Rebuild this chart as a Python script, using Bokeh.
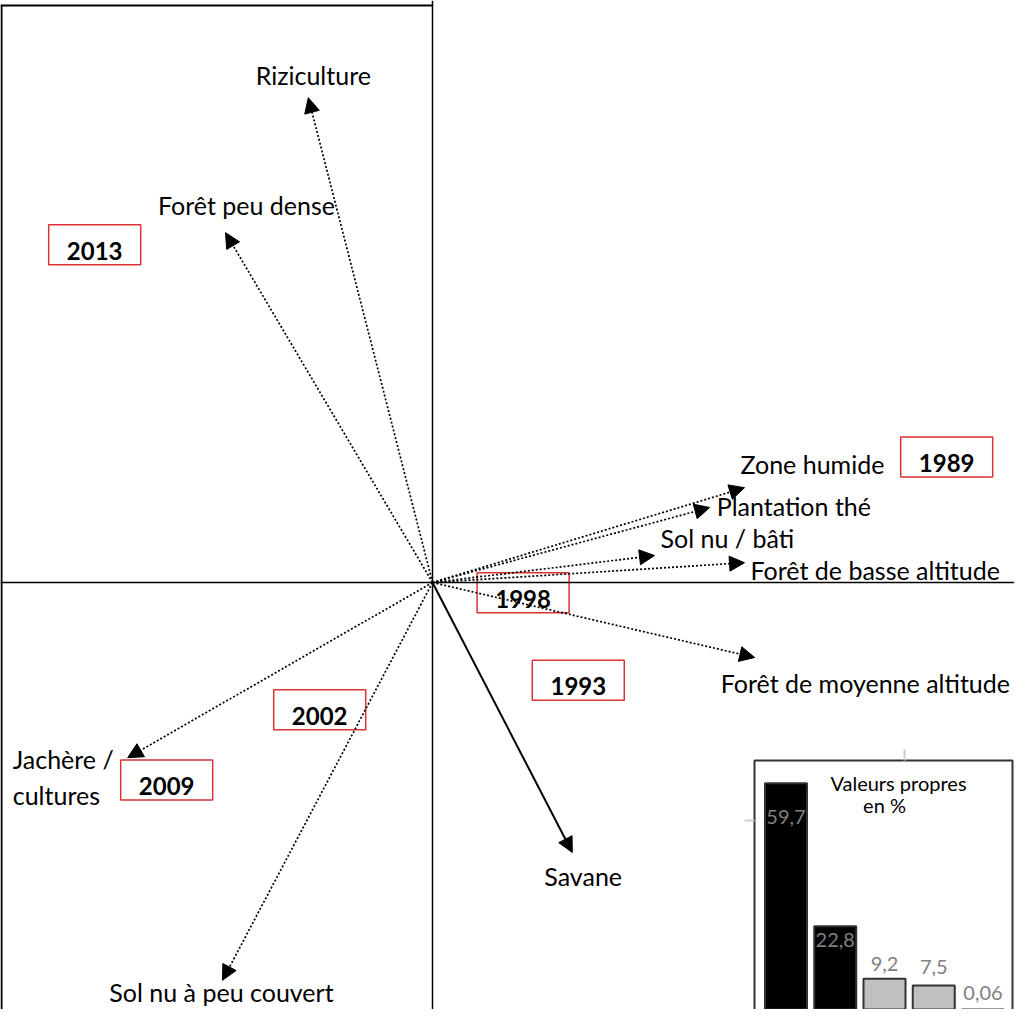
from bokeh.plotting import figure
from bokeh.models import ColumnDataSource, Arrow, NormalHead, Span, Range1d
from bokeh.core.properties import value
from bokeh.embed import file_html
from bokeh.resources import INLINE

# ---------------- data ----------------
# variables (dotted arrows) : coordinates on F1 / F2
var_names = ["Riziculture", "Forêt peu dense", "Zone humide", "Plantation thé", "Sol nu / bâti",
             "Forêt de basse altitude", "Forêt de moyenne altitude", "Sol nu à peu couvert",
             "Jachère /\ncultures"]
var_f1 = [-0.207, -0.345, 0.520, 0.462, 0.370, 0.520, 0.537, -0.350, -0.508]
var_f2 = [0.808, 0.583, 0.158, 0.125, 0.045, 0.033, -0.125, -0.663, -0.292]

# variable drawn with a solid arrow
solid_names = ["Savane"]
solid_f1 = [0.233]
solid_f2 = [-0.450]

# years (individuals)
years = ["2013", "1989", "1998", "1993", "2002", "2009"]
year_f1 = [-0.563, 0.857, 0.151, 0.243, -0.188, -0.443]
year_f2 = [0.563, 0.209, -0.017, -0.163, -0.212, -0.329]

# eigenvalues (%)
eig_labels = ["59,7", "22,8", "9,2", "7,5", "0,06"]
eig_values = [59.7, 22.8, 9.2, 7.5, 0.06]

# ---------------- layout ----------------
W, H = 1014, 1009
S = 600.0            # px per unit
OX, OY = 432, 582    # origin inside frame (px)
x_range = Range1d(-OX / S, (W - OX) / S)
y_range = Range1d(-(H - OY) / S, OY / S)

FONT = value("Lato")
LAB_SIZE = "25px"

p = figure(width=W, height=H, x_range=x_range, y_range=y_range,
           output_backend="svg", toolbar_location=None, min_border=0,
           x_axis_location=None, y_axis_location=None, outline_line_color=None)
p.grid.visible = False
p.background_fill_color = "white"

# frame (left + top border) and axes
top_y = (OY - 5) / S
left_x = x_range.start + 1.0 / S
p.segment(x0=[x_range.start], y0=[top_y], x1=[0], y1=[top_y], line_color="black", line_width=2)
p.segment(x0=[left_x], y0=[y_range.start], x1=[left_x], y1=[top_y], line_color="black", line_width=2)
p.add_layout(Span(location=0, dimension="width", line_color="black", line_width=1.5))
p.add_layout(Span(location=0, dimension="height", line_color="black", line_width=1.5))

# dotted arrows
n = len(var_names)
src = ColumnDataSource(dict(x0=[0] * n, y0=[0] * n, x1=var_f1, y1=var_f2))
p.add_layout(Arrow(end=NormalHead(size=15, fill_color="black", line_color="black"),
                   source=src, x_start="x0", y_start="y0", x_end="x1", y_end="y1",
                   line_dash="2 2", line_width=1.7, line_color="black"))
# solid arrow
m = len(solid_names)
src2 = ColumnDataSource(dict(x0=[0] * m, y0=[0] * m, x1=solid_f1, y1=solid_f2))
p.add_layout(Arrow(end=NormalHead(size=15, fill_color="black", line_color="black"),
                   source=src2, x_start="x0", y_start="y0", x_end="x1", y_end="y1",
                   line_width=2, line_color="black"))

# variable labels (offsets in screen px from arrow tips)
lab_dx = [5, 21, -4, 7, 6, 6, -34, -1, -115]
lab_dy = [-23, -28, -24, -2, -18, 7, 25, 12, 19]
lab_align = ["center", "center", "left", "left", "left", "left", "left", "center", "left"]
p.text(x=var_f1[:-1], y=var_f2[:-1], text=var_names[:-1], x_offset=lab_dx[:-1], y_offset=lab_dy[:-1],
       text_align=lab_align[:-1], text_baseline="middle", text_font=FONT,
       text_font_size=LAB_SIZE, text_color="black")
p.text(x=var_f1[-1:], y=var_f2[-1:], text=var_names[-1:], x_offset=lab_dx[-1], y_offset=lab_dy[-1],
       text_align="left", text_baseline="middle", text_font=FONT, text_line_height=1.2,
       text_font_size=LAB_SIZE, text_color="black")
p.text(x=solid_f1, y=solid_f2, text=solid_names, x_offset=-28, y_offset=23,
       text_align="left", text_baseline="middle", text_font=FONT,
       text_font_size=LAB_SIZE, text_color="black")

# year boxes
p.rect(x=year_f1, y=year_f2, width=92, height=40, width_units="screen", height_units="screen",
       fill_color=None, line_color="#dc3232", line_width=1.5)
p.text(x=year_f1, y=year_f2, text=years, y_offset=6, text_align="center", text_baseline="middle",
       text_font=FONT, text_font_style="bold", text_font_size="24px", text_color="black")

# ---------------- inset: eigenvalues ----------------
PX_BAR, BAR0 = 49.25, 793.5 - 8       # px per bar, first bar centre in frame px
PX_VAL, BASE = 3.875, 1022 - 8        # px per %, baseline in frame px
bx_s = -BAR0 / PX_BAR
p.extra_x_ranges = {"bx": Range1d(bx_s, bx_s + W / PX_BAR)}
by_e = BASE / PX_VAL
p.extra_y_ranges = {"by": Range1d(by_e - H / PX_VAL, by_e)}

def ux(px):
    return (px - 8 - BAR0) / PX_BAR

def vy(py):
    return (BASE - (py - 8)) / PX_VAL

p.quad(left=[ux(762)], right=[ux(1020)], top=[vy(768)], bottom=[vy(1060)],
       x_range_name="bx", y_range_name="by", fill_color="white", line_color="#333333", line_width=2)
p.segment(x0=[ux(912)], y0=[vy(757)], x1=[ux(912)], y1=[vy(768)], x_range_name="bx", y_range_name="by",
          line_color="#cccccc", line_width=2)
p.segment(x0=[ux(752)], y0=[vy(828)], x1=[ux(762)], y1=[vy(828)], x_range_name="bx", y_range_name="by",
          line_color="#cccccc", line_width=2)

idx = list(range(len(eig_values)))
bar_colors = ["black", "black", "#c0c0c0", "#c0c0c0", "#c0c0c0"]
p.vbar(x=idx, top=eig_values, bottom=0, width=42 / PX_BAR, x_range_name="bx", y_range_name="by",
       fill_color=bar_colors, line_color="#333333", line_width=2)
p.text(x=idx, y=eig_values, text=eig_labels, y_offset=[34, 14, -15, -18, -21],
       x_range_name="bx", y_range_name="by", text_align="center", text_baseline="middle",
       text_font=FONT, text_font_size="20px", text_color="#808080")
p.text(x=[ux(906), ux(892)], y=[vy(790), vy(812)], text=["Valeurs propres", "en %"],
       x_range_name="bx", y_range_name="by", text_align="center", text_baseline="middle",
       text_font=FONT, text_font_size="20px", text_color="black")

open("out.html", "w").write(file_html(p, INLINE))
